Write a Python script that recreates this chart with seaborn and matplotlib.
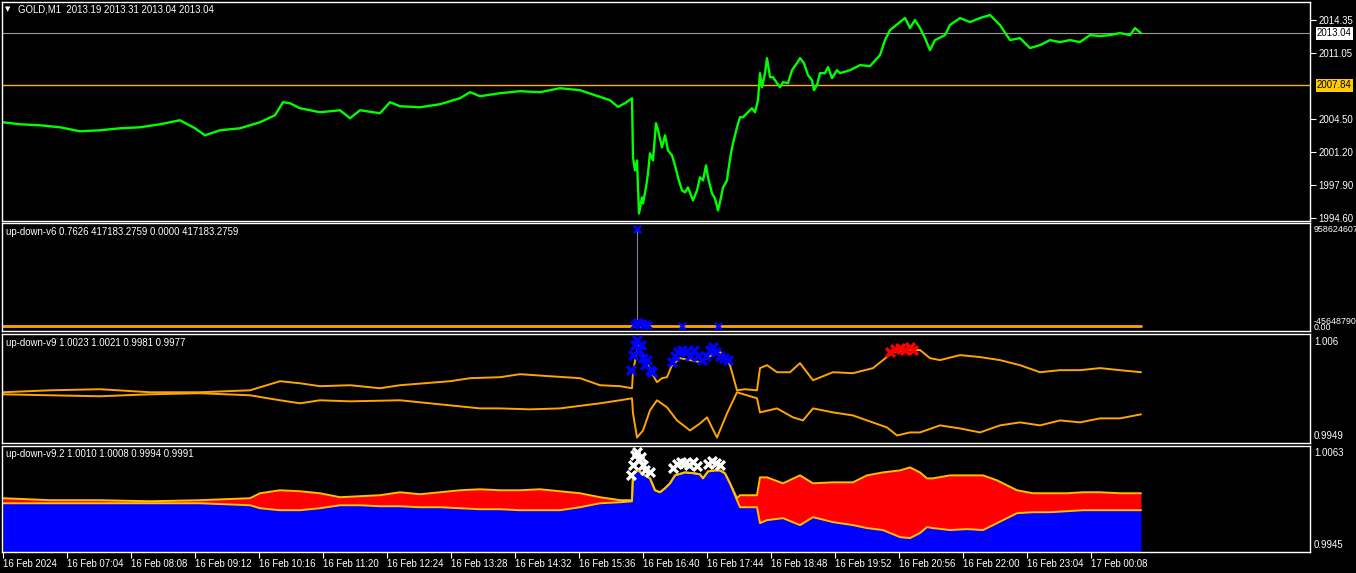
import matplotlib
matplotlib.use("Agg")
import matplotlib.pyplot as plt
import seaborn as sns
import pandas as pd

# ---------------- data ----------------
time_ticks = [0, 64, 128, 192, 256, 320, 384, 448, 512, 576, 640, 704, 768, 832, 896, 960, 1024, 1088]
time_labels = ["16 Feb 2024", "16 Feb 07:04", "16 Feb 08:08", "16 Feb 09:12", "16 Feb 10:16",
               "16 Feb 11:20", "16 Feb 12:24", "16 Feb 13:28", "16 Feb 14:32", "16 Feb 15:36",
               "16 Feb 16:40", "16 Feb 17:44", "16 Feb 18:48", "16 Feb 19:52", "16 Feb 20:56",
               "16 Feb 22:00", "16 Feb 23:04", "17 Feb 00:08"]

price_ticks = [2014.35, 2011.05, 2004.50, 2001.20, 1997.90, 1994.60]
bid_price = 2013.04
level_price = 2007.84

price_min = [0, 17, 37, 57, 77, 97, 117, 137, 157, 177, 192, 202, 217, 237, 257, 272, 280, 287, 297, 317,
             337, 347, 357, 377, 387, 397, 417, 437, 457, 467, 477, 497, 517, 537, 557, 577, 597, 607, 615, 622,
             629, 630, 632, 634, 636, 639, 640, 643, 645, 647, 650, 653, 655, 659, 662, 665, 669, 672, 675, 679,
             682, 685, 690, 694, 697, 700, 703, 705, 709, 712, 715, 718, 720, 724, 725, 728, 730, 734, 737, 740,
             744, 749, 752, 755, 757, 759, 762, 764, 767, 770, 774, 777, 780, 785, 789, 794, 797, 801, 805, 809,
             811, 814, 817, 822, 825, 829, 834, 837, 847, 857, 867, 877, 882, 887, 897, 902, 907, 912, 917, 922,
             927, 932, 942, 947, 957, 967, 977, 987, 997, 1007, 1017, 1027, 1037, 1047, 1057, 1067, 1077, 1087,
             1097, 1107, 1117, 1127, 1132, 1138]
price_val = [2004.15, 2003.95, 2003.85, 2003.65, 2003.25, 2003.35, 2003.55, 2003.65, 2003.95, 2004.35,
             2003.55, 2002.85, 2003.35, 2003.55, 2004.15, 2004.85, 2006.15, 2006.05, 2005.55, 2005.15,
             2005.35, 2004.55, 2005.35, 2005.05, 2006.15, 2005.75, 2005.65, 2005.95, 2006.55, 2007.15,
             2006.75, 2007.05, 2007.25, 2007.15, 2007.55, 2007.35, 2006.68, 2006.35, 2005.68, 2006.05,
             2006.55, 2000.68, 1999.35, 2000.35, 1995.05, 1996.65, 1996.05, 1997.65, 1999.05, 2001.05,
             2000.35, 2004.05, 2003.35, 2001.65, 2002.85, 2001.35, 2000.85, 1999.85, 1998.65, 1997.35,
             1997.15, 1997.65, 1996.35, 1997.35, 1998.65, 1998.35, 1999.85, 1998.65, 1997.05, 1996.55,
             1995.35, 1996.65, 1997.65, 1998.35, 1999.15, 2001.05, 2002.05, 2003.65, 2004.65, 2004.65,
             2005.05, 2005.55, 2005.15, 2006.35, 2009.05, 2007.65, 2009.05, 2010.55, 2008.65, 2008.65,
             2008.05, 2007.65, 2008.15, 2008.05, 2009.35, 2010.05, 2010.55, 2010.05, 2008.85, 2008.35,
             2007.35, 2007.85, 2009.05, 2009.05, 2009.65, 2008.55, 2009.35, 2009.05, 2009.35, 2009.85,
             2009.75, 2010.85, 2012.35, 2013.35, 2014.15, 2014.55, 2013.55, 2014.35, 2013.55, 2012.55,
             2011.35, 2012.35, 2012.85, 2013.85, 2014.55, 2014.15, 2014.55, 2014.85, 2013.85, 2012.35,
             2012.55, 2011.55, 2011.85, 2012.35, 2012.15, 2012.35, 2012.15, 2012.85, 2012.75, 2012.85,
             2013.05, 2012.85, 2013.55, 2013.04]

# up-down-v6
v6_min = [0, 1138]
v6_val = [0.7626, 0.7626]
v6_spike_min = [634, 634]
v6_spike_val = [0.0, 902831639.0]
v6_mark_min = [634, 631, 633, 635, 637, 639, 641, 643, 645, 679, 715]
v6_mark_val = [902831639.0, 10100000.0, 28700000.0, 38000000.0, 19400000.0, 28700000.0,
               10100000.0, 19400000.0, 10100000.0, 850000.0, 850000.0]
v6_top, v6_bottom = 958624607, -45648790

# up-down-v9
v9_up_min = [0, 47, 97, 147, 197, 247, 277, 297, 317, 347, 377, 397, 447, 467, 497, 517, 547, 577, 597,
             617, 629, 630, 635, 640, 645, 650, 654, 659, 664, 669, 677, 687, 697, 707, 717, 724, 727, 734,
             742, 754, 757, 764, 774, 787, 797, 810, 830, 850, 870, 880, 890, 902, 917, 927, 937, 957, 977,
             997, 1017, 1037, 1057, 1077, 1097, 1117, 1138]
v9_up_val = [1.00004, 1.00024, 1.00035, 1.00004, 1.00004, 1.00024, 1.00117, 1.00096, 1.00066, 1.00076,
             1.00045, 1.00076, 1.00117, 1.00148, 1.00158, 1.00189, 1.00168, 1.00148, 1.00076, 1.00066,
             1.00045, 1.00209, 1.00487, 1.00384, 1.00281, 1.00179, 1.00107, 1.00148, 1.00158, 1.00281,
             1.00353, 1.00333, 1.00312, 1.00374, 1.00415, 1.00333, 1.00281, 1.00024, 1.00035, 1.00024,
             1.00251, 1.00281, 1.00209, 1.00209, 1.00302, 1.00127, 1.00209, 1.00199, 1.00251, 1.00333,
             1.00415, 1.00436, 1.00436, 1.00353, 1.00333, 1.00384, 1.00364, 1.00333, 1.00281, 1.00209,
             1.00230, 1.00230, 1.00251, 1.00230, 1.00209]
v9_dn_min = [0, 47, 97, 147, 197, 247, 277, 297, 317, 347, 397, 447, 477, 497, 527, 557, 597, 617, 629,
             630, 634, 640, 647, 654, 664, 674, 687, 697, 704, 714, 724, 734, 744, 754, 757, 774, 790, 800,
             810, 830, 850, 864, 884, 894, 907, 917, 937, 957, 977, 997, 1017, 1037, 1057, 1077, 1097, 1117,
             1138]
v9_dn_val = [0.99983, 0.99973, 0.99963, 0.99983, 0.99994, 0.99973, 0.99922, 0.99891, 0.99922, 0.99911,
             0.99922, 0.99870, 0.99839, 0.99839, 0.99829, 0.99839, 0.99891, 0.99922, 0.99942, 0.99788,
             0.99541, 0.99613, 0.99819, 0.99922, 0.99850, 0.99716, 0.99613, 0.99685, 0.99747, 0.99541,
             0.99788, 1.00004, 0.99973, 0.99942, 0.99798, 0.99839, 0.99747, 0.99716, 0.99839, 0.99798,
             0.99767, 0.99716, 0.99644, 0.99562, 0.99593, 0.99593, 0.99665, 0.99634, 0.99593, 0.99665,
             0.99696, 0.99665, 0.99716, 0.99696, 0.99737, 0.99737, 0.99778]
v9_blue_min = [628, 630, 632, 634, 636, 638, 640, 642, 644, 647, 649, 669, 672, 675, 679, 683, 687, 691,
               695, 699, 703, 707, 710, 713, 717, 721, 725]
v9_blue_val = [1.00230, 1.00384, 1.00487, 1.00538, 1.00436, 1.00487, 1.00353, 1.00281, 1.00333, 1.00230,
               1.00209, 1.00312, 1.00374, 1.00415, 1.00436, 1.00415, 1.00374, 1.00436, 1.00374, 1.00333,
               1.00374, 1.00436, 1.00466, 1.00415, 1.00374, 1.00353, 1.00333]
v9_red_min = [887, 892, 897, 902, 907, 910]
v9_red_val = [1.00415, 1.00446, 1.00456, 1.00436, 1.00466, 1.00436]
v9_top, v9_bottom = 1.006, 0.9949

# up-down-v9.2
v92_min = [0, 47, 97, 147, 197, 247, 257, 277, 297, 317, 337, 357, 377, 397, 417, 437, 457, 477, 497, 517,
           537, 557, 577, 597, 617, 629, 630, 635, 642, 647, 652, 657, 662, 667, 672, 682, 692, 697, 700,
           705, 712, 717, 722, 727, 734, 737, 754, 757, 764, 780, 797, 810, 830, 850, 864, 880, 897, 907,
           917, 924, 930, 947, 964, 980, 994, 1014, 1030, 1047, 1064, 1080, 1097, 1117, 1138]
v92_up = [1.00046, 1.00024, 1.00024, 1.00012, 1.00024, 1.00046, 1.00101, 1.00134, 1.00123, 1.00101,
          1.00057, 1.00068, 1.00079, 1.00112, 1.00090, 1.00112, 1.00134, 1.00145, 1.00134, 1.00134,
          1.00145, 1.00123, 1.00101, 1.00057, 1.00024, 1.00024, 1.00321, 1.00354, 1.00299, 1.00266,
          1.00134, 1.00112, 1.00156, 1.00211, 1.00299, 1.00332, 1.00321, 1.00310, 1.00266, 1.00343,
          1.00354, 1.00354, 1.00321, 1.00211, 1.00046, 1.00079, 1.00079, 1.00277, 1.00277, 1.00211,
          1.00299, 1.00211, 1.00222, 1.00222, 1.00299, 1.00332, 1.00354, 1.00387, 1.00332, 1.00266,
          1.00266, 1.00299, 1.00299, 1.00299, 1.00244, 1.00134, 1.00101, 1.00101, 1.00101, 1.00112,
          1.00112, 1.00101, 1.00101]
v92_dn = [0.99990, 0.99990, 0.99990, 0.99990, 0.99990, 0.99968, 0.99935, 0.99913, 0.99913, 0.99935,
          0.99968, 0.99968, 0.99957, 0.99957, 0.99946, 0.99946, 0.99935, 0.99924, 0.99924, 0.99913,
          0.99913, 0.99913, 0.99946, 0.99990, 1.00001, 1.00012, 1.00321, 1.00354, 1.00299, 1.00266,
          1.00134, 1.00112, 1.00156, 1.00211, 1.00299, 1.00332, 1.00321, 1.00310, 1.00266, 1.00343,
          1.00354, 1.00354, 1.00321, 1.00211, 1.00024, 0.99946, 0.99946, 0.99770, 0.99803, 0.99825,
          0.99748, 0.99836, 0.99781, 0.99748, 0.99715, 0.99693, 0.99615, 0.99604, 0.99660, 0.99726,
          0.99715, 0.99693, 0.99704, 0.99693, 0.99770, 0.99880, 0.99891, 0.99891, 0.99902, 0.99913,
          0.99913, 0.99913, 0.99913]
v92_mark_min = [628, 630, 632, 634, 636, 638, 640, 642, 647, 670, 674, 678, 682, 686, 690, 694, 705, 709,
                713, 717]
v92_mark_val = [1.00299, 1.00409, 1.00520, 1.00553, 1.00465, 1.00498, 1.00409, 1.00354, 1.00332, 1.00376,
                1.00420, 1.00443, 1.00431, 1.00409, 1.00443, 1.00398, 1.00420, 1.00454, 1.00431, 1.00409]
v92_top, v92_bottom = 1.0063, 0.9945

# ---------------- style ----------------
sns.set_theme(style="dark")
FONT = ["Liberation Sans Narrow", "Liberation Sans", "DejaVu Sans"]
plt.rcParams["font.family"] = FONT
plt.rcParams["axes.facecolor"] = "black"
plt.rcParams["figure.facecolor"] = "black"

W, H = 1356, 573
fig = plt.figure(figsize=(W / 100, H / 100), dpi=100)
FS = 6.9


def box(top, bottom, left=2, right=1310):
    return [left / W, 1 - bottom / H, (right - left) / W, (bottom - top) / H]


def ftext(x, y, s, **kw):
    kw.setdefault("color", "white")
    kw.setdefault("fontsize", FS)
    kw.setdefault("va", "center")
    kw.setdefault("ha", "left")
    fig.text(x / W, 1 - y / H, s, **kw)


XMIN, XMAX = -1, 1307
axes = []
for (t, b) in [(2, 220.5), (223, 331), (334, 442.5), (445.5, 552)]:
    ax = fig.add_axes(box(t, b))
    ax.set_facecolor("black")
    for s in ax.spines.values():
        s.set_color("white")
        s.set_linewidth(1)
    ax.set_xlim(XMIN, XMAX)
    ax.grid(False)
    axes.append(ax)
ax1, ax2, ax3, ax4 = axes

# ---- panel 1: price ----
ax1.set_ylim(1994.35, 2016.15)
ax1.axhline(bid_price, color="#9a9a9a", lw=0.8)
ax1.axhline(level_price, color="#FFB000", lw=1.0)
sns.lineplot(x=price_min, y=price_val, ax=ax1, color="#00FF00", lw=1.7, sort=False, estimator=None)
ax1.set_xlabel("")
ax1.set_ylabel("")
ax1.yaxis.tick_right()
ax1.set_yticks(price_ticks)
ax1.set_yticklabels([f"{v:.2f}" for v in price_ticks])
ax1.tick_params(axis="y", direction="out", length=4, width=0.8, color="white", labelcolor="white",
                labelsize=FS, pad=2)
ax1.tick_params(axis="x", bottom=False, labelbottom=False)
for val, fc in [(bid_price, "white"), (level_price, "#FFCC00")]:
    ax1.annotate(f"{val:.2f}", xy=(1.0, val), xycoords=("axes fraction", "data"),
                 xytext=(5, 0), textcoords="offset points", va="center", ha="left",
                 fontsize=FS, color="black",
                 bbox=dict(boxstyle="square,pad=0.15", fc=fc, ec="none"))
ftext(8, 9, "\u25BC", fontsize=5, family=["DejaVu Sans"], ha="center")
ftext(18, 9, "GOLD,M1  2013.19 2013.31 2013.04 2013.04")

# ---- panel 2: up-down-v6 ----
ax2.set_ylim(v6_bottom, v6_top)
sns.lineplot(x=v6_spike_min, y=v6_spike_val, ax=ax2, color="#8080a0", lw=0.8, sort=False, estimator=None)
sns.lineplot(x=v6_min, y=v6_val, ax=ax2, color="#FFA500", lw=2.0, sort=False, estimator=None)
sns.scatterplot(x=v6_mark_min, y=v6_mark_val, ax=ax2, marker="x", s=28, linewidth=1.8,
                color="#0000FF", zorder=5)
ax2.set_xticks([])
ax2.set_yticks([])
ax2.set_xlabel("")
ax2.set_ylabel("")
ftext(6, 232, "up-down-v6 0.7626 417183.2759 0.0000 417183.2759")
ftext(1314, 229, "958624607", fontsize=6.4)
ftext(1314, 321.5, "-45648790", fontsize=6.4)
ftext(1314, 327, "0.00", fontsize=6.4)

# ---- panel 3: up-down-v9 ----
ax3.set_ylim(v9_bottom, v9_top)
sns.lineplot(x=v9_up_min, y=v9_up_val, ax=ax3, color="#FFA500", lw=1.4, sort=False, estimator=None)
sns.lineplot(x=v9_dn_min, y=v9_dn_val, ax=ax3, color="#FFA500", lw=1.4, sort=False, estimator=None)
sns.scatterplot(x=v9_blue_min, y=v9_blue_val, ax=ax3, marker="x", s=40, linewidth=2.4,
                color="#0000FF", zorder=5)
sns.scatterplot(x=v9_red_min, y=v9_red_val, ax=ax3, marker="x", s=40, linewidth=2.4,
                color="#FF0000", zorder=5)
ax3.set_xticks([])
ax3.set_yticks([])
ax3.set_xlabel("")
ax3.set_ylabel("")
ftext(6, 343, "up-down-v9 1.0023 1.0021 0.9981 0.9977")
ftext(1314, 342, "1.006")
ftext(1314, 436, "0.9949")

# ---- panel 4: up-down-v9.2 ----
ax4.set_ylim(v92_bottom, v92_top)
ax4.fill_between(v92_min, v92_bottom, v92_dn, color="#0000FF", lw=0)
ax4.fill_between(v92_min, v92_dn, v92_up, color="#FF0000", lw=0)
sns.lineplot(x=v92_min, y=v92_up, ax=ax4, color="#FFC000", lw=1.4, sort=False, estimator=None)
sns.lineplot(x=v92_min, y=v92_dn, ax=ax4, color="#FFC000", lw=1.4, sort=False, estimator=None)
sns.scatterplot(x=v92_mark_min, y=v92_mark_val, ax=ax4, marker="x", s=40, linewidth=2.4,
                color="white", zorder=5)
ax4.set_yticks([])
ax4.set_xlabel("")
ax4.set_ylabel("")
ax4.set_xticks(time_ticks)
ax4.set_xticklabels(time_labels, ha="left")
ax4.tick_params(axis="x", direction="out", length=4, width=0.8, color="white", labelcolor="white",
                labelsize=FS, pad=1, bottom=True)
ftext(6, 454, "up-down-v9.2 1.0010 1.0008 0.9994 0.9991")
ftext(1314, 453, "1.0063")
ftext(1314, 545, "0.9945")

fig.savefig("out.png", dpi=100, facecolor="black")
